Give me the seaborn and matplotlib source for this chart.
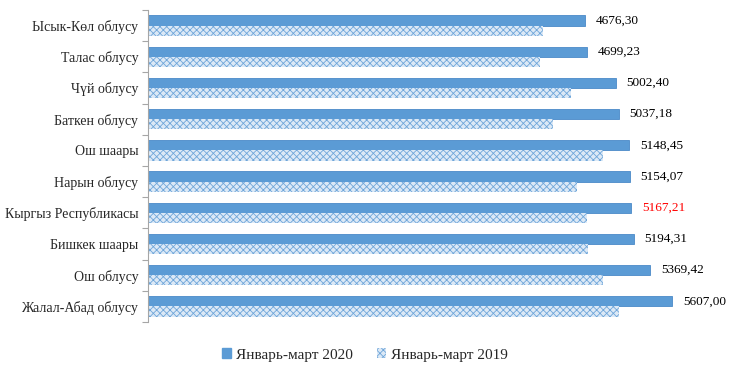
import matplotlib
matplotlib.use("Agg")
import matplotlib.pyplot as plt
import seaborn as sns
import pandas as pd
import numpy as np
from matplotlib.patches import Patch

categories = ["Ысык-Көл облусу", "Талас облусу", "Чүй облусу", "Баткен облусу",
              "Ош шаары", "Нарын облусу", "Кыргыз Республикасы", "Бишкек шаары",
              "Ош облусу", "Жалал-Абад облусу"]
values_2020 = [4676.30, 4699.23, 5002.40, 5037.18, 5148.45, 5154.07, 5167.21, 5194.31, 5369.42, 5607.00]
values_2019 = [4221, 4193, 4520, 4330, 4866, 4588, 4692, 4706, 4863, 5041]
labels_2020 = ["4676,30", "4699,23", "5002,40", "5037,18", "5148,45", "5154,07", "5167,21", "5194,31", "5369,42", "5607,00"]
series = ["Январь-март 2020", "Январь-март 2019"]

sns.set_style("white")
plt.rcParams['font.family'] = ['Liberation Serif', 'DejaVu Serif']
plt.rcParams['hatch.linewidth'] = 0.6

df = pd.DataFrame({
    "cat": categories * 2,
    "val": values_2020 + values_2019,
    "ser": [series[0]] * len(categories) + [series[1]] * len(categories),
})

fig = plt.figure(figsize=(7.3, 3.72), dpi=100)
ax = fig.add_axes([148/730, 1 - 322/372, (709 - 148)/730, (322 - 10)/372])

solid = "#5B9BD5"
hatch_fc = "#DCE9F6"
hatch_ec = "#6FA6DA"
sns.barplot(data=df, y="cat", x="val", hue="ser", orient="h", ax=ax,
            palette=[solid, hatch_fc], width=0.66, legend=False,
            saturation=1, errorbar=None)

n = len(categories)
for i, p in enumerate(ax.patches[:2 * n]):
    if i < n:
        p.set_facecolor(solid)
        p.set_edgecolor("#4A8AC8")
        p.set_linewidth(0.6)
    else:
        p.set_facecolor(hatch_fc)
        p.set_edgecolor(hatch_ec)
        p.set_hatch("xxxxx")
        p.set_linewidth(0)

# labels on 2020 bars
for i, p in enumerate(ax.patches[:n]):
    y = p.get_y() + p.get_height() / 2
    color = "#FF0000" if categories[i] == "Кыргыз Республикасы" else "black"
    ax.text(p.get_width() + 115, y, labels_2020[i], va="center", ha="left",
            fontsize=9.5, color=color)

ax.set_xlim(0, 6000)
ax.set_ylim(n - 0.5, -0.5)
ax.set_xlabel("")
ax.set_ylabel("")
ax.set_xticks([])
for s in ["top", "right", "bottom"]:
    ax.spines[s].set_visible(False)
ax.spines["left"].set_color("#A6A6A6")
ax.spines["left"].set_linewidth(0.8)
ax.tick_params(axis="y", which="major", length=0, labelsize=10, pad=7, left=False)
ax.set_yticks(np.arange(-0.5, n, 1.0), minor=True)
ax.tick_params(axis="y", which="minor", left=True, length=4, color="#A6A6A6", width=0.8)

handles = [Patch(facecolor=solid, edgecolor=solid, label=series[0]),
           Patch(facecolor=hatch_fc, edgecolor=hatch_ec, hatch="xxxxx", linewidth=0, label=series[1])]
fig.legend(handles=handles, loc="center", bbox_to_anchor=(0.5, 1 - 355/372),
           ncol=2, frameon=False, fontsize=11, handlelength=0.6, handleheight=0.6,
           handletextpad=0.3, columnspacing=1.6)

fig.savefig("out.png", dpi=100)
